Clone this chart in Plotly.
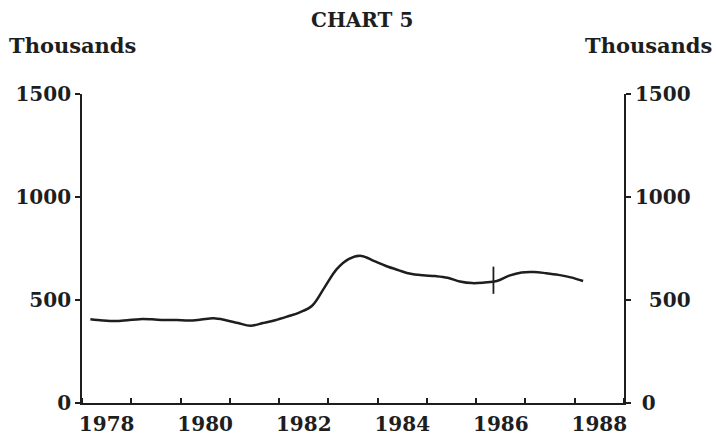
import plotly.graph_objects as go

# Quarterly observations
start_year = 1978
quarter_values = [
    407, 401, 398, 402,   # 1978
    407, 406, 403, 403,   # 1979
    400, 405, 411, 402,   # 1980
    388, 375, 388, 402,   # 1981
    420, 440, 472, 560,   # 1982
    650, 700, 714, 690,   # 1983
    665, 645, 627, 620,   # 1984
    616, 608, 590, 582,   # 1985
    585, 592, 618, 634,   # 1986
    636, 630, 622, 610,   # 1987
    592,                  # 1988
]
x_years = [start_year + 0.17 + 0.25 * i for i in range(len(quarter_values))]

# Break marker (series discontinuity)
break_year = 1986.35
break_low, break_high = 530, 662

year_ticks = list(range(1978, 1990))
label_years = [1978, 1980, 1982, 1984, 1986, 1988]
y_ticks = [0, 500, 1000, 1500]
y_labels_left = ["0", "500", "1000", "1500"]
y_labels_right = ["\u00a00", "\u00a0\u00a0500", "1000", "1500"]

ink = "#1e1e1e"
FONT = "DejaVu Serif"
num_font = dict(family=FONT, size=20, color=ink, weight="bold")
xnum_font = dict(family=FONT, size=20, color=ink, weight="bold")
title_font = dict(family=FONT, size=20, color=ink, weight="bold")
unit_font = dict(family=FONT, size=21, color=ink, weight="bold")

W, H = 716, 435
l, r, t, b = 82, 92, 94, 32

fig = go.Figure()
fig.add_trace(go.Scatter(
    x=x_years, y=quarter_values, mode="lines",
    line=dict(color=ink, width=2.5, shape="spline", smoothing=1.0),
    showlegend=False, hoverinfo="skip",
))
fig.add_trace(go.Scatter(
    x=[break_year, break_year], y=[break_low, break_high], mode="lines",
    line=dict(color=ink, width=1.8), showlegend=False, hoverinfo="skip",
))
fig.add_trace(go.Scatter(x=[1978], y=[0], yaxis="y2", mode="markers",
                         marker=dict(opacity=0), showlegend=False, hoverinfo="skip"))

fig.update_layout(
    width=W, height=H,
    margin=dict(l=l, r=r, t=t, b=b, autoexpand=False),
    paper_bgcolor="white", plot_bgcolor="white",
    xaxis=dict(
        range=[1978, 1989], showgrid=False, zeroline=False, automargin=False,
        showline=True, linecolor=ink, linewidth=2,
        tickmode="array", tickvals=[y + 0.5 for y in label_years],
        ticktext=[str(y) for y in label_years], ticks="",
        tickfont=xnum_font, ticklabelstandoff=2,
        minor=dict(tickmode="array", tickvals=year_ticks, ticks="inside",
                   ticklen=5, tickwidth=1.5, tickcolor=ink, showgrid=False),
    ),
    yaxis=dict(
        range=[0, 1500], showgrid=False, zeroline=False, automargin=False,
        showline=True, linecolor=ink, linewidth=1.8,
        tickmode="array", tickvals=y_ticks, ticktext=y_labels_left,
        ticks="outside", ticklen=5, tickwidth=1.5, tickcolor=ink,
        tickfont=num_font,
    ),
    yaxis2=dict(
        range=[0, 1500], overlaying="y", side="right", showgrid=False,
        zeroline=False, automargin=False, showline=True, linecolor=ink,
        linewidth=1.8, tickmode="array", tickvals=y_ticks,
        ticktext=y_labels_right, ticks="outside", ticklen=5, tickwidth=1.5,
        tickcolor=ink, tickfont=num_font,
    ),
)

pw, ph = W - l - r, H - t - b
def px(xp):
    return (xp - l) / pw
def py(yp):
    return (H - b - yp) / ph

fig.update_layout(annotations=[
    dict(text="CHART 5", xref="paper", yref="paper", x=px(362), y=py(20),
         xanchor="center", yanchor="middle", showarrow=False, font=title_font),
    dict(text="Thousands", xref="paper", yref="paper", x=px(7), y=py(45),
         xanchor="left", yanchor="middle", showarrow=False, font=unit_font),
    dict(text="Thousands", xref="paper", yref="paper", x=px(714), y=py(45),
         xanchor="right", yanchor="middle", showarrow=False, font=unit_font),
])

fig.write_html(
    "out.html",
    config={"displayModeBar": False},
    post_script="document.body.style.margin='0';document.body.style.padding='0';",
)
